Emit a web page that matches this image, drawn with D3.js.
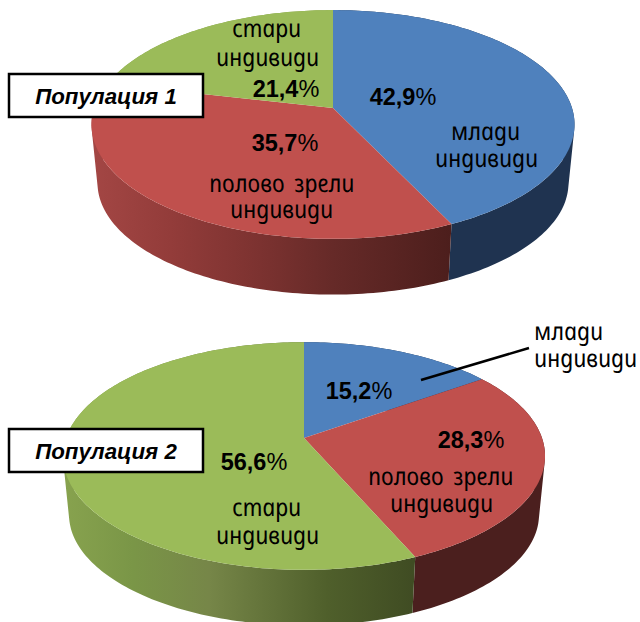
<!DOCTYPE html>
<html lang="bg">
<head>
  <meta charset="utf-8">
  <title>Популация</title>
  <style>
    body { margin: 0; background: white; }
    svg { display: block; }
    text { fill: black; font-family: "Liberation Sans", sans-serif; }
    .name { font-family: "Noto Sans", sans-serif; font-size: 25px; font-style: italic; text-anchor: middle; word-spacing: 4px; }
    .pct { font-size: 23.5px; font-weight: bold; text-anchor: middle; }
    .pct tspan { font-weight: normal; }
    .title { font-size: 22.3px; font-weight: bold; font-style: italic; text-anchor: middle; }
  </style>
  <script src="https://d3js.org/d3.v7.min.js"></script>
</head>
<body>
  <div id="chart"></div>
  <script>
    const values1 = [42.9, 35.7, 21.4];
    const values2 = [15.2, 28.3, 56.6];
    const titles = ["Популация 1", "Популация 2"];
    const topColors = ["#4f81bd", "#c0504d", "#9bbb59"];

    const svg = d3.select("#chart").append("svg").attr("width", 640).attr("height", 622);
    const defs = svg.append("defs");

    const pie = d3.pie().sort(null).value(d => d);
    const line = d3.line();

    // circle seen in perspective, so the centre sits above the middle of the ellipse
    function rim(g, a, scale, dy) {
      const x = Math.sin(a), y = -Math.cos(a), w = 1 - g.k * y;
      return [g.cx + g.rx * scale * x / w, g.cy + dy + g.ry * scale * y / w];
    }
    function arcPoints(g, a0, a1, scale, dy) {
      const n = Math.ceil((a1 - a0) / 0.02);
      return d3.range(n + 1).map(i => rim(g, a0 + (a1 - a0) * i / n, scale, dy));
    }
    // wall as a strip of small quads, all wound the same way so they add up
    function wallPath(g, d) {
      const top = arcPoints(g, d.startAngle, d.endAngle, 1, 0);
      const low = arcPoints(g, d.startAngle, d.endAngle, g.base, g.depth);
      return d3.range(top.length - 1).map(i => {
        const quad = [top[i], top[i + 1], low[i + 1], low[i]];
        if (d3.polygonArea(quad) < 0) quad.reverse();
        return line(quad) + "Z";
      }).join("");
    }

    function drawPie(values, g, wallStops, id) {
      const slices = pie(values);
      slices.forEach((s, i) => {
        const grad = defs.append("linearGradient").attr("id", id + i)
          .attr("gradientUnits", "userSpaceOnUse")
          .attr("x1", g.cx - g.rx).attr("x2", g.cx + g.rx).attr("y1", 0).attr("y2", 0);
        wallStops[i].forEach(st => grad.append("stop").attr("offset", st[0]).attr("stop-color", st[1]));
      });
      svg.append("g").selectAll("path").data(slices).enter().append("path")
        .attr("fill", (d, i) => `url(#${id}${i})`)
        .attr("d", d => wallPath(g, d));
      svg.append("g").selectAll("path").data(slices).enter().append("path")
        .attr("fill", (d, i) => topColors[i])
        .attr("d", d => line([[g.cx, g.cy]].concat(arcPoints(g, d.startAngle, d.endAngle, 1, 0))) + "Z");
    }

    drawPie(values1, { cx: 333, cy: 108, rx: 239, ry: 112, k: 0.144, base: 0.975, depth: 59 }, [
      [[0, "#1f3350"], [1, "#1f3350"]],
      [[0, "#a34644"], [0.16, "#933c3a"], [0.33, "#7e3331"], [0.5, "#662a28"], [0.75, "#4c1e1c"], [1, "#4c1e1c"]],
      [[0, "#87a24e"], [1, "#87a24e"]]
    ], "wall1");

    drawPie(values2, { cx: 304, cy: 438, rx: 238, ry: 111, k: 0.158, base: 0.975, depth: 59 }, [
      [[0, "#1f3350"], [1, "#1f3350"]],
      [[0, "#4b1f1e"], [1, "#4b1f1e"]],
      [[0, "#87a24e"], [0.14, "#7a9647"], [0.3, "#768648"], [0.55, "#4f5f2b"], [0.75, "#3e4a22"], [1, "#3e4a22"]]
    ], "wall2");

    const names = [
      ["стари", 268, 37], ["индивиди", 269, 66],
      ["полово зрели", 283, 192], ["индивиди", 283, 218],
      ["млади", 487, 140], ["индивиди", 488, 167],
      ["полово зрели", 442, 485], ["индивиди", 443, 512],
      ["стари", 268, 516], ["индивиди", 269, 544],
      ["млади", 570, 340], ["индивиди", 587, 367]
    ];
    // upright look: the italic shapes are straightened and narrowed.
    // lang sr gives the g-shaped д, but it also puts a bar on т and п, so only where д occurs
    svg.append("g").selectAll("text").data(names).enter().append("text")
      .attr("class", "name")
      .attr("lang", d => d[0].includes("д") ? "sr" : "ru")
      .attr("transform", d => `translate(${d[1]},${d[2]}) skewX(11) scale(0.91,1)`)
      .text(d => d[0]);

    svg.append("line").attr("x1", 421).attr("y1", 380).attr("x2", 529).attr("y2", 348)
      .attr("stroke", "black").attr("stroke-width", 2.5);

    const pctPlaces = [[403, 105], [285, 151], [286, 97], [359, 399], [471, 448], [254, 470]];
    values1.concat(values2).forEach((v, i) => {
      const t = svg.append("text").attr("class", "pct").attr("x", pctPlaces[i][0]).attr("y", pctPlaces[i][1]);
      t.text(v.toFixed(1).replace(".", ","));
      t.append("tspan").text("%");
    });

    titles.forEach((t, i) => {
      const y = [74, 429][i];
      svg.append("rect").attr("x", 9).attr("y", y).attr("width", 194).attr("height", 43)
        .attr("fill", "white").attr("stroke", "black").attr("stroke-width", 2.5);
      svg.append("text").attr("class", "title").attr("x", 106).attr("y", y + 30).text(t);
    });
  </script>
</body>
</html>
